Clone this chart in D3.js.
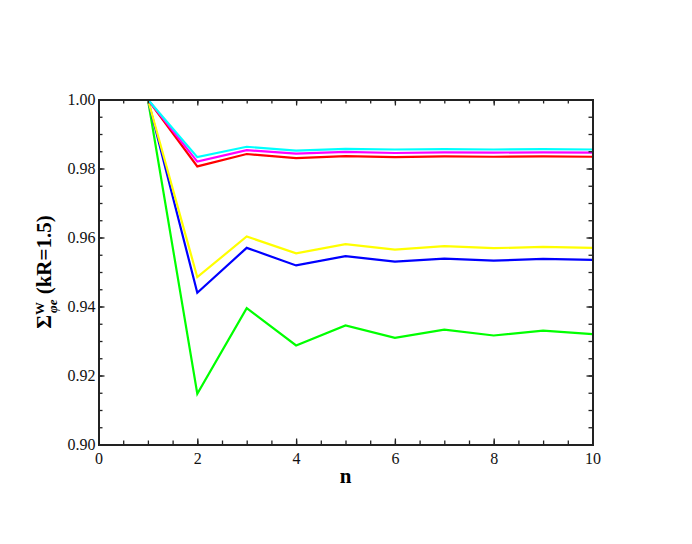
<!DOCTYPE html>
<html><head><meta charset="utf-8">
<script src="https://cdn.jsdelivr.net/npm/d3@7"></script>
<style>body{margin:0;background:#fff;} svg{display:block;}
svg text{font-family:'Liberation Serif','Times New Roman',serif;}
</style>
</head><body>
<script>
const nValues = [1,2,3,4,5,6,7,8,9,10];
const cyanSeries    = [1.0,0.9833,0.9863,0.9852,0.9857,0.9855,0.9856,0.9855,0.9856,0.9855];
const magentaSeries = [1.0,0.9820,0.9853,0.9843,0.9848,0.9845,0.9847,0.9846,0.9847,0.9846];
const redSeries     = [1.0,0.9806,0.9842,0.9830,0.9836,0.9833,0.9835,0.9834,0.9835,0.9834];
const yellowSeries  = [1.0,0.9485,0.9603,0.9554,0.9581,0.9565,0.9575,0.9569,0.9573,0.9570];
const blueSeries    = [1.0,0.9440,0.9570,0.9519,0.9546,0.9530,0.9539,0.9533,0.9538,0.9535];
const greenSeries   = [1.0,0.9147,0.9395,0.9287,0.9345,0.9309,0.9333,0.9316,0.9330,0.9320];
const xTicks = [0,2,4,6,8,10];
const yTicks = [0.90,0.92,0.94,0.96,0.98,1.00];

const series = [
  {values: greenSeries, color: "#00ff00"},
  {values: blueSeries, color: "#0000ff"},
  {values: yellowSeries, color: "#ffff00"},
  {values: redSeries, color: "#ff0000"},
  {values: magentaSeries, color: "#ff00ff"},
  {values: cyanSeries, color: "#00ffff"}
];

const W = 692, H = 544;
const L = 98.5, R = 592.5, T = 99.5, B = 444.5;
const svg = d3.select("body").append("svg").attr("width", W).attr("height", H);
const x = d3.scaleLinear().domain([0,10]).range([L,R]);
const y = d3.scaleLinear().domain([0.90,1.00]).range([B,T]);

const clipId = "plotclip";
svg.append("clipPath").attr("id", clipId).append("rect")
  .attr("x", L).attr("y", T).attr("width", R-L).attr("height", B-T);

const line = d3.line().x((d,i)=>x(nValues[i])).y(d=>y(d));
const g = svg.append("g").attr("clip-path", `url(#${clipId})`);
series.forEach(s => {
  g.append("path").datum(s.values).attr("d", line)
    .attr("fill","none").attr("stroke", s.color).attr("stroke-width", 2.2)
    .attr("stroke-linejoin","miter");
});

const font = "'Liberation Serif', 'Times New Roman', serif";
const xMinor = d3.range(0, 10.01, 0.5);
const yMinor = d3.range(0, 21).map(i => 0.90 + i*0.005);

const bottomAxis = svg.append("g").attr("transform", `translate(0,${B})`)
  .call(d3.axisBottom(x).tickValues(xTicks).tickSize(-6).tickFormat(d3.format("d")));
svg.append("g").attr("transform", `translate(0,${T})`)
  .call(d3.axisTop(x).tickValues(xMinor).tickSize(-4).tickFormat(""));
svg.append("g").attr("transform", `translate(0,${B})`)
  .call(d3.axisBottom(x).tickValues(xMinor).tickSize(-4).tickFormat(""));
const leftAxis = svg.append("g").attr("transform", `translate(${L},0)`)
  .call(d3.axisLeft(y).tickValues(yTicks).tickSize(-6).tickFormat(d3.format(".2f")));
svg.append("g").attr("transform", `translate(${L},0)`)
  .call(d3.axisLeft(y).tickValues(yMinor).tickSize(-4).tickFormat(""));
svg.append("g").attr("transform", `translate(${R},0)`)
  .call(d3.axisRight(y).tickValues(yMinor).tickSize(-4).tickFormat(""));
svg.append("g").attr("transform", `translate(${R},0)`)
  .call(d3.axisRight(y).tickValues(yTicks).tickSize(-6).tickFormat(""));
svg.append("g").attr("transform", `translate(0,${T})`)
  .call(d3.axisTop(x).tickValues(xTicks).tickSize(-6).tickFormat(""));

svg.selectAll(".domain").attr("stroke","#222").attr("stroke-width",2);
svg.selectAll(".tick line").attr("stroke","#222").attr("stroke-width",1.3);
svg.selectAll(".tick text").style("font-family", font).style("font-size", "16px").attr("fill","#111");
bottomAxis.selectAll(".tick text").attr("dy", null).attr("y", 19);
leftAxis.selectAll(".tick text").attr("x", -3).attr("dy","0.32em");

svg.append("text").attr("x", (L+R)/2).attr("y", 483).attr("text-anchor","middle")
  .style("font-family", font).attr("font-weight","bold").style("font-size", "21px").text("n");

const yl = svg.append("text")
  .attr("transform", `translate(51,${(T+B)/2}) rotate(-90)`)
  .attr("text-anchor","middle")
  .style("font-family", font).attr("font-weight","bold").style("font-size", "21px");
yl.append("tspan").text("Σ");
yl.append("tspan").style("font-size", "13px").attr("dy", -7).text("W");
yl.append("tspan").style("font-size", "13px").attr("font-style","italic").attr("dx", -11).attr("dy", 13).text("φe");
yl.append("tspan").attr("dy", -6).text(" (kR=1.5)");
</script>
</body></html>
